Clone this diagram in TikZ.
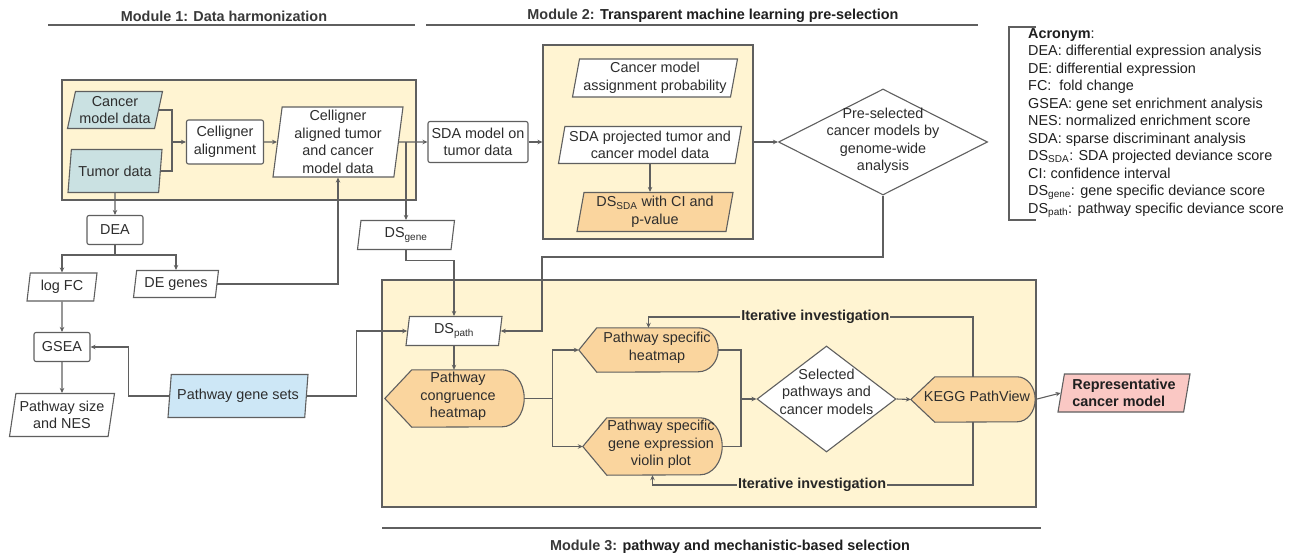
\documentclass[tikz,border=0pt]{standalone}
\usepackage{fontspec}
\setmainfont{Liberation Sans}
\usepackage{tikz}
\usetikzlibrary{shapes.geometric,arrows.meta,positioning}

\definecolor{linegray}{RGB}{95,95,95}
\definecolor{txtgray}{RGB}{45,45,45}
\definecolor{modfill}{RGB}{255,244,210}
\definecolor{orangefill}{RGB}{250,213,158}
\definecolor{tealfill}{RGB}{202,225,226}
\definecolor{bluefill}{RGB}{205,231,246}
\definecolor{pinkfill}{RGB}{250,200,196}

\pgfdeclarelayer{back}
\pgfdeclarelayer{mid}
\pgfsetlayers{back,mid,main}

% centred block of lines, shifted, that does not size the node
\newcommand{\ctext}[3]{\makebox[0pt]{\hspace{#1}\raisebox{#2}{\smash{\begin{tabular}{@{}c@{}}#3\end{tabular}}}}}
% outline of a display node: node, tip depth, arc x radius, half height
\newcommand{\dispoutline}[4]{%
  \begin{pgfonlayer}{mid}
    \draw[displine] (#1.west) -- ([xshift=#2]#1.north west) -- ([xshift=-#3]#1.north east)
      arc[start angle=90, end angle=-90, x radius=#3, y radius=#4]
      -- ([xshift=#2]#1.south west) -- cycle;
  \end{pgfonlayer}}

\tikzset{
  every node/.style={font=\fontsize{14.4}{17.5}\selectfont, text=txtgray},
  proc/.style={rectangle, draw=linegray, line width=1.1pt, fill=white, rounded corners=2pt, align=center, inner sep=2pt},
  dataio/.style={trapezium, trapezium left angle=78, trapezium right angle=102, trapezium stretches body=true,
    draw=linegray, line width=1.1pt, fill=white, align=center, inner xsep=2pt, inner ysep=1pt},
  decision/.style={diamond, draw=linegray, line width=1.1pt, fill=white, inner sep=0pt},
  disp/.style={rectangle, inner sep=0pt},
  displine/.style={draw=linegray, line width=1.1pt, fill=orangefill},
  modbox/.style={rectangle, draw=linegray, line width=1.1pt, fill=modfill, inner sep=0pt},
  flow/.style={draw=linegray, line width=1.1pt, -{Stealth[length=5pt,width=4.5pt]}},
  link/.style={draw=linegray, line width=1.1pt},
  rule/.style={draw=linegray, line width=1.1pt},
  head/.style={font=\fontsize{14.4}{17.5}\selectfont\bfseries, text=black!88},
  iterlbl/.style={font=\fontsize{14.4}{17.5}\selectfont\bfseries, text=black!85, fill=modfill, inner xsep=1pt, inner ysep=1pt},
  acro/.style={align=left, inner sep=0pt, text=black!88}
}

\begin{document}
\begin{tikzpicture}[x=1pt, y=-1pt]
  \useasboundingbox (0,0) rectangle (1299,556);

  % Module headers
  \node[head] (h1) at (224,16) {\textcolor{black!78}{Module 1: Data harmonization}};
  \node[head] (h2) at (713,16) {\textcolor{black!78}{Module 2:} Transparent machine learning pre-selection};
  \node[head] (h3) at (730,547) {\textcolor{black!78}{Module 3:} pathway and mechanistic-based selection};
  \draw[rule] (48,25) -- (415,25);
  \draw[rule] (426,25) -- (978,25);
  \draw[rule] (382,528) -- (1041,528);

  % Module boxes
  \begin{pgfonlayer}{back}
    \node[modbox, minimum width=354pt, minimum height=120pt] (m1) at (239,140) {};
    \node[modbox, minimum width=210pt, minimum height=194pt] (m2) at (648,142) {};
    \node[modbox, minimum width=654pt, minimum height=227pt] (m3) at (709,393.5) {};
  \end{pgfonlayer}

  % Module 1 nodes
  \node[dataio, fill=tealfill, trapezium left angle=75, trapezium right angle=105,
        minimum width=95pt, minimum height=37pt] (cmd) at (115,110) {Cancer\\model data};
  \node[dataio, fill=tealfill, trapezium left angle=75, trapezium right angle=105,
        minimum width=94pt, minimum height=43pt] (tum) at (115,171) {Tumor data};
  \node[proc, minimum width=77pt, minimum height=44pt] (calign) at (225,142) {Celligner\\alignment};
  \node[dataio, trapezium left angle=82, trapezium right angle=98,
        minimum width=130pt, minimum height=70pt] (caligned) at (338,142) {Celligner\\aligned tumor\\and cancer\\model data};
  \node[proc, minimum width=56pt, minimum height=29pt] (dea) at (115,230) {DEA};
  \node[dataio, minimum width=70pt, minimum height=28pt] (logfc) at (62,287) {log FC};
  \node[dataio, minimum width=85pt, minimum height=27pt] (degenes) at (176,284) {DE genes};
  \node[proc, minimum width=56pt, minimum height=29pt] (gsea) at (62,347) {GSEA};
  \node[dataio, minimum width=105pt, minimum height=43pt] (psize) at (62,415) {Pathway size\\and NES};
  \node[dataio, fill=bluefill, minimum width=140pt, minimum height=43pt] (pgs) at (238,396) {Pathway gene sets};
  \node[dataio, minimum width=97pt, minimum height=29pt] (dsgene) at (406,235) {DS\textsubscript{gene}};

  % Module 2 nodes
  \node[proc, minimum width=100pt, minimum height=41pt] (sda) at (478,142) {SDA model on\\tumor data};
  \node[dataio, minimum width=165pt, minimum height=38pt] (cmap) at (655,78) {Cancer model\\assignment probability};
  \node[dataio, minimum width=183pt, minimum height=37pt] (sdap) at (650,145) {SDA projected tumor and\\cancer model data};
  \node[dataio, fill=orangefill, minimum width=156pt, minimum height=39pt] (dssda) at (655,212) {DS\textsubscript{SDA} with CI and\\p-value};
  \node[decision, minimum width=209pt, minimum height=106pt] (pre) at (883,142)
    {\ctext{0pt}{-5pt}{Pre-selected\\cancer models by\\genome-wide\\analysis}};

  % Module 3 nodes
  \node[dataio, minimum width=96pt, minimum height=29pt] (dspath) at (454,331) {DS\textsubscript{path}};
  \node[disp, minimum width=139pt, minimum height=57pt] (cong) at (454.5,398.5)
    {\ctext{7pt}{-3.6pt}{Pathway\\congruence\\heatmap}};
  \node[disp, minimum width=139pt, minimum height=44pt] (psh) at (648.5,350)
    {\ctext{17pt}{-3.6pt}{Pathway specific\\heatmap}};
  \node[disp, minimum width=139pt, minimum height=57pt] (viol) at (652.5,446.5)
    {\ctext{17pt}{-3.6pt}{Pathway specific\\gene expression\\violin plot}};
  \node[decision, minimum width=139pt, minimum height=106pt] (sel) at (826.5,399)
    {\ctext{0pt}{4.4pt}{Selected\\pathways and\\cancer models}};
  \node[disp, minimum width=124pt, minimum height=45pt] (kegg) at (973,399.5)
    {\ctext{8pt}{-3.6pt}{KEGG PathView}};
  \node[dataio, fill=pinkfill, align=left, text=black!88, font=\fontsize{14.4}{17.5}\selectfont\bfseries,
        minimum width=132pt, minimum height=38pt] (rep) at (1124,393) {Representative\\cancer model};

  \dispoutline{cong}{27pt}{22pt}{28.5pt}
  \dispoutline{psh}{18pt}{20pt}{22pt}
  \dispoutline{viol}{24pt}{22pt}{28.5pt}
  \dispoutline{kegg}{24pt}{18pt}{22.5pt}

  % Connect the nodes
  \coordinate (jin) at (172,142);
  \draw[link] (cmd.east) -| (jin);
  \draw[link] (tum.east) -| (jin);
  \draw[flow] (jin) -- (calign.west);
  \draw[flow] (calign.east) -- (caligned.west);
  \draw[flow] (caligned.east) -- (sda.west);
  \draw[flow] (dsgene.north |- caligned.east) -- (dsgene.north);
  \draw[flow] (tum.south) -- (dea.north);
  \draw[flow] (dea.south) -- ++(0,10) -| (logfc.north);
  \draw[flow] (dea.south) -- ++(0,10) -| (degenes.north);
  \draw[flow] (degenes.east) -| (caligned.south);
  \draw[flow] (logfc.south) -- (gsea.north);
  \draw[flow] (gsea.south) -- (psize.north);
  \draw[flow] (pgs.west) -- ++(-41,0) |- (gsea.east);
  \draw[flow] (pgs.east) -- ++(50,0) |- (dspath.west);
  \draw[flow] (dsgene.south) -- ++(0,10) -| (dspath.north);
  \draw[flow] (sda.east) -- (m2.west);
  \draw[flow] (sdap.south) -- (sdap.south |- dssda.north);
  \draw[flow] (m2.east) -- (pre.west);
  \coordinate (pj) at (542,257);
  \draw[flow] (pre.south) |- (pj) |- (dspath.east);
  \draw[flow] (dspath.south) -- (dspath.south |- cong.north);
  \draw[flow] (cong.east) -- ++(28,0) |- (psh.west);
  \draw[flow] (cong.east) -- ++(28,0) |- (viol.west);
  \coordinate (sj) at (741,399);
  \draw[link] (psh.east) -| (sj);
  \draw[link] (viol.east) -| (sj);
  \draw[flow] (sj) -- (sel.west);
  \draw[flow] (sel.east) -- (kegg.west);
  \draw[flow] (kegg.east) -- (rep.west);

  % Iteration loops
  \coordinate (itop) at (973,317);
  \coordinate (ibot) at (973,485);
  \draw[flow] (kegg.north) -- (itop) -| (psh.north) node[iterlbl, pos=0.243] {Iterative investigation};
  \draw[flow] (kegg.south) -- (ibot) -| (viol.south) node[iterlbl, pos=0.251] {Iterative investigation};

  % Acronyms
  \node[acro, anchor=north west] (acr) at (1028,28) {\textbf{Acronym}:\\
    DEA: differential expression analysis\\
    DE: differential expression\\
    FC:\ \ fold change\\
    GSEA: gene set enrichment analysis\\
    NES: normalized enrichment score\\
    SDA: sparse discriminant analysis\\
    DS\textsubscript{SDA}: SDA projected deviance score\\
    CI: confidence interval\\
    DS\textsubscript{gene}: gene specific deviance score\\
    DS\textsubscript{path}: pathway specific deviance score};
  \draw[link] (1036,27) -| (1009,220) -- (1036,220);

\end{tikzpicture}
\end{document}
